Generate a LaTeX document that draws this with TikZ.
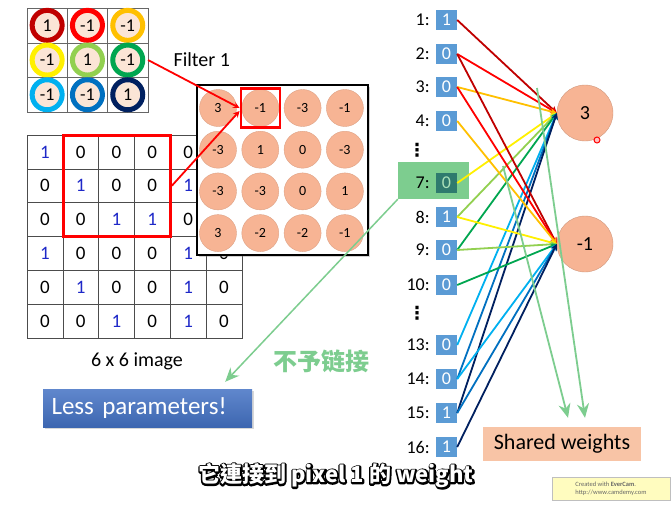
\documentclass[tikz,border=0pt]{standalone}
\usepackage{fontspec}
\setmainfont{Carlito}
\newfontfamily\cjksc{Noto Sans CJK SC}
\newfontfamily\cjktc{Noto Sans CJK TC}
\newfontfamily\dejavu{DejaVu Sans}
\usetikzlibrary{positioning,shadows,arrows.meta}
\definecolor{darkred}{RGB}{192,0,0}
\definecolor{pptred}{RGB}{255,0,0}
\definecolor{pptorange}{RGB}{255,192,0}
\definecolor{pptyellow}{RGB}{255,240,0}
\definecolor{lightgreen}{RGB}{146,208,80}
\definecolor{pptgreen}{RGB}{0,166,80}
\definecolor{lightblue}{RGB}{0,176,240}
\definecolor{pptblue}{RGB}{0,112,192}
\definecolor{navy}{RGB}{0,32,96}
\definecolor{peach}{RGB}{251,229,214}
\definecolor{salmon}{RGB}{247,180,148}
\definecolor{boxblue}{RGB}{91,155,213}
\definecolor{tealbox}{RGB}{47,122,110}
\definecolor{tealtext}{RGB}{170,225,185}
\definecolor{numblue}{RGB}{30,40,200}
\definecolor{mint}{RGB}{125,205,143}
\definecolor{shared}{RGB}{248,196,166}
\definecolor{lessblue}{RGB}{68,114,196}
\newcommand{\fsz}[1]{\fontsize{#1}{#1}\selectfont}
\newcommand{\outlined}[1]{\rlap{\special{pdf:literal direct 0 g 0 G 2 Tr 3.2 w 1 j}#1\special{pdf:literal direct 1 g 1 G 0 Tr}}#1}

\begin{document}
\begin{tikzpicture}[x=1pt,y=-1pt,
  cell/.style={draw=black!70, minimum width=35.8pt, minimum height=33.8pt, inner sep=0pt, font=\fsz{19}},
  fcell/.style={draw=black!60, minimum width=40.3pt, minimum height=34.7pt, inner sep=0pt},
  ring/.style={circle, draw, line width=5pt, fill=peach, minimum size=30pt, inner sep=0pt, font=\fsz{18}},
  fmap/.style={circle, fill=salmon, draw=salmon!90!black, minimum size=37pt, inner sep=0pt, font=\fsz{14}},
  pix/.style={minimum width=21pt, minimum height=20pt, inner sep=0pt, font=\fsz{18}},
  lab/.style={inner sep=0pt, font=\fsz{18}},
  conn/.style={->,>=stealth,line width=1.8pt},
  neuron/.style={circle, fill=salmon, draw=salmon!85!black, minimum size=56pt, font=\fsz{20}},
  greenarrow/.style={-{Stealth[length=14pt,width=12pt]}, line width=1.8pt, mint},
]
\useasboundingbox[fill=white] (0,0) rectangle (672,506);

\foreach \row [count=\r] in {{1,0,0,0,0,},{0,1,0,0,1,},{0,0,1,1,0,},{1,0,0,0,1,0},{0,1,0,0,1,0},{0,0,1,0,1,0}}
  \foreach \v [count=\c] in \row {
    \ifnum0\v=1 \def\tc{numblue}\else\def\tc{black}\fi
    \node[cell, text=\tc] (i\r\c) at ({27+35.8*(\c-0.5)}, {135+33.8*(\r-0.5)}) {\v};
  }
\node[draw=pptred, line width=3pt, minimum width=107.4pt, minimum height=101.4pt] (win) at (116.7,185.7) {};
\node[font=\fsz{20}] (caption) at (137,361) {6 x 6 image};

\foreach \r/\c in {1/1,1/2,1/3,2/1,2/2,2/3,3/1,3/2,3/3}
  \node[fcell] (fc\r\c) at ({27+40.3*(\c-0.5)}, {8+34.7*(\r-0.5)}) {};
\foreach \r/\c/\v/\col in {1/1/1/darkred, 1/2/-1/pptred, 1/3/-1/pptorange, 2/1/-1/pptyellow, 2/2/1/lightgreen, 2/3/-1/pptgreen, 3/1/-1/lightblue, 3/2/-1/pptblue, 3/3/1/navy}
  \node[ring, draw=\col] (f\r\c) at (fc\r\c) {\v};
\node[font=\fsz{20}, right=22pt of fc23] (ftitle) {Filter 1};

\node[draw, line width=1.8pt, fill=white, drop shadow={opacity=0.35}, minimum width=171pt, minimum height=170pt] (fbox) at (282.5,170) {};
\foreach \row [count=\r] in {{3,-1,-3,-1},{-3,1,0,-3},{-3,-3,0,1},{3,-2,-2,-1}}
  \foreach \v [count=\c] in \row
    \node[fmap] (m\r\c) at ({218+42.3*(\c-1)}, {108+41.7*(\r-1)}) {\v};
\node[draw=pptred, line width=2.5pt, minimum size=39pt] (sel) at (m12) {};

\draw [->,>=stealth,line width=1.8pt,pptred] (fc23.east) -- (sel.west);
\draw [->,>=stealth,line width=1.8pt,pptred] (win.east) -- ([yshift=-3pt]sel.west);

\node[top color=lessblue!85!white, bottom color=lessblue!90!black, text=white, minimum width=209pt, minimum height=38pt, text width=192pt, align=left, font=\fsz{25}, drop shadow={opacity=0.3}] (less) at (147.5,408) {Less parameters!};

\node[fill=mint, minimum width=71pt, minimum height=37pt] (hl7) at (433.5,180.5) {};
\foreach \i/\y/\v/\bc/\tc in {1/20/1/boxblue/white, 2/54/0/boxblue/white, 3/87/0/boxblue/white, 4/121/0/boxblue/white, 7/183/0/tealbox/tealtext, 8/217/1/boxblue/white, 9/250/0/boxblue/white, 10/285/0/boxblue/white, 13/345/0/boxblue/white, 14/379/0/boxblue/white, 15/413/1/boxblue/white, 16/447/1/boxblue/white} {
  \node[pix, fill=\bc, text=\tc] (p\i) at (446.5,\y) {\v};
  \node[lab, left=6pt of p\i] (l\i) {\i:};
}
\node[lab, font=\dejavu\bfseries\fsz{18}] (dots1) at (417,150) {⋮};
\node[lab, font=\dejavu\bfseries\fsz{18}] (dots2) at (417,313) {⋮};

\coordinate (lesstip) at ([xshift=-27pt, yshift=7pt]less.north east);
\draw [greenarrow, line width=1.5pt] (hl7.south west) -- (lesstip);
\node[text=mint, font=\cjksc\bfseries\fsz{24}] (nolink) at (321,361) {不予链接};

\node[neuron] (n3) at (585,113) {3};
\node[neuron] (n1) at (585,244) {-1};

\foreach \s/\c in {1/darkred, 2/pptred, 3/pptorange, 7/pptyellow, 8/lightgreen, 9/pptgreen, 13/lightblue, 14/pptblue, 15/navy}
  \draw [conn, \c] (p\s.east) -- (n3.west);
\foreach \s/\c in {2/darkred, 3/pptred, 4/pptorange, 8/pptyellow, 9/lightgreen, 10/pptgreen, 14/lightblue, 15/pptblue, 16/navy}
  \draw [conn, \c] (p\s.east) -- (n1.west);

\node[circle, draw=red, fill=red!25, line width=1pt, minimum size=6pt, inner sep=0pt] (cursor) at (597,140) {};

\node[fill=shared, minimum width=158pt, minimum height=34pt, font=\fsz{22}] (shw) at (562,444) {Shared weights};
\coordinate (wa) at (503,166);
\coordinate (wb) at (537,88);
\coordinate (ta) at ([xshift=6pt, yshift=9pt]shw.north);
\coordinate (tb) at ([xshift=23pt, yshift=9pt]shw.north);
\draw [greenarrow] (wa) -- (ta);
\draw [greenarrow] (wb) -- (tb);

\node[font=\cjktc\bfseries\fsz{22}, text=white] (subtitle) at (336,476) {\outlined{它連接到 pixel 1 的 weight}};

\node[fill=yellow!25, draw=black!25, minimum width=118pt, minimum height=23pt, align=left, font=\fontsize{6.5}{8}\selectfont, text=black!60, inner sep=2pt] (evercam) at (611,488.5) {Created with \textbf{EverCam}.\\http://www.camdemy.com};
\end{tikzpicture}
\end{document}
